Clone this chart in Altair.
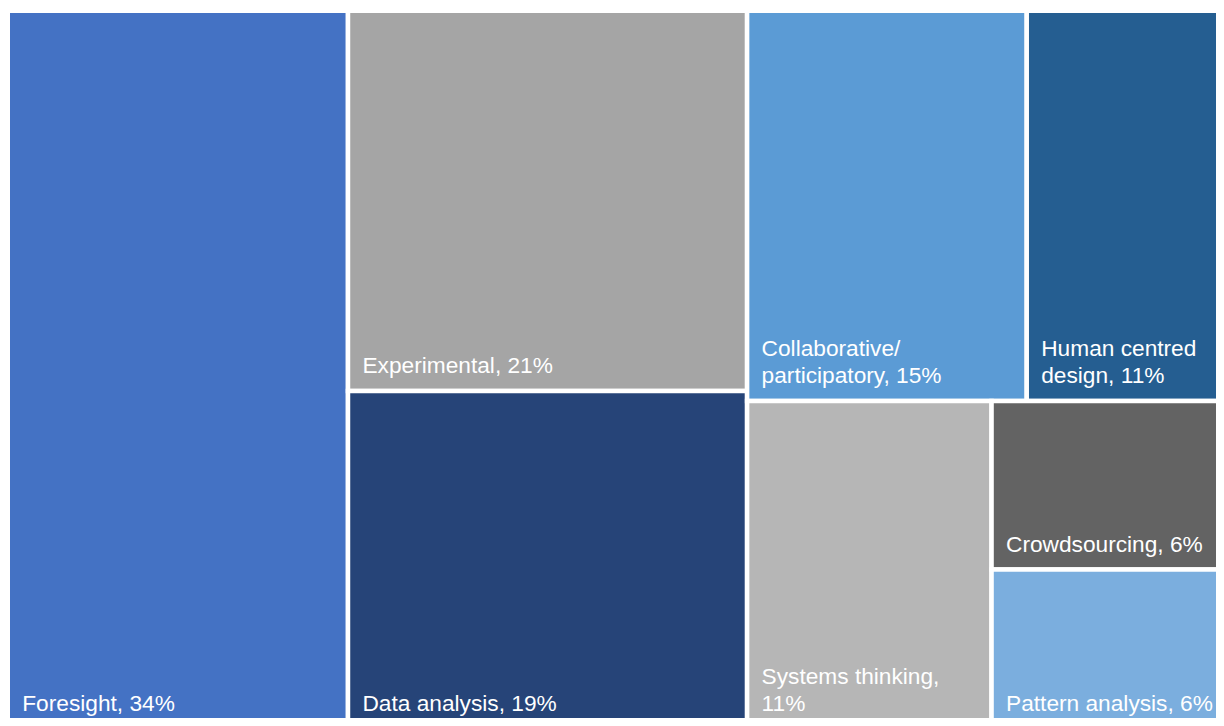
import altair as alt
import pandas as pd

# ---- data ----
names = [
    "Foresight",
    "Experimental",
    "Data analysis",
    "Collaborative/\nparticipatory",
    "Human centred\ndesign",
    "Systems thinking",
    "Crowdsourcing",
    "Pattern analysis",
]
# share of respondents (%), estimated from the tile areas; labels show rounded values
values = [34.1, 21.0, 19.0, 15.1, 11.3, 11.3, 5.7, 5.6]
separators = [", ", ", ", ", ", ", ", ", ", ",\n", ", ", ", "]
colors = ["#4472C4", "#A5A5A5", "#264478", "#5B9BD5", "#255E91",
          "#B6B6B6", "#636363", "#7BAEDE"]

# tile arrangement (indices into the lists above); "h" splits left-right, "v" top-bottom
tree = ("h", [0, ("v", [1, 2]), ("v", [("h", [3, 4]), ("h", [5, ("v", [6, 7])])])])

# ---- layout parameters (pixels inside the plot area) ----
W, H = 1208, 710
OUTER = (-0.25, 2.75, 1228.0, 727.0)   # the treemap runs past the visible frame
LINE_H = 27
PAD_X, PAD_Y = 14.5, 12.5


def total(node):
    if isinstance(node, int):
        return values[node]
    return sum(total(c) for c in node[1])


def place(node, x0, y0, x1, y1, out):
    if isinstance(node, int):
        out[node] = (x0, y0, x1, y1)
        return
    kind, children = node
    t = total(node)
    pos = x0 if kind == "h" else y0
    for c in children:
        f = total(c) / t
        if kind == "h":
            nxt = pos + (x1 - x0) * f
            place(c, pos, y0, nxt, y1, out)
        else:
            nxt = pos + (y1 - y0) * f
            place(c, x0, pos, x1, nxt, out)
        pos = nxt


boxes = {}
place(tree, *OUTER, boxes)

rows = []
for i, n in enumerate(names):
    x0, y0, x1, y1 = boxes[i]
    label = f"{n}{separators[i]}{round(values[i])}%"
    nlines = label.count("\n") + 1
    ty = min(y1 - PAD_Y, H - 2) - (nlines - 1) * LINE_H
    rows.append({
        "name": n, "label": label,
        "x0": x0, "x1": x1, "y0": y0, "y1": y1,
        "tx": x0 + PAD_X, "ty": ty,
    })
df = pd.DataFrame(rows)

xs = alt.Scale(domain=[0, W], nice=False, zero=False)
ys = alt.Scale(domain=[0, H], nice=False, zero=False, reverse=True)

rects = alt.Chart(df).mark_rect(stroke="white", strokeWidth=4.5).encode(
    x=alt.X("x0:Q", scale=xs, axis=None),
    x2="x1:Q",
    y=alt.Y("y0:Q", scale=ys, axis=None),
    y2="y1:Q",
    color=alt.Color("name:N", scale=alt.Scale(domain=names, range=colors), legend=None),
)

labels = alt.Chart(df).mark_text(
    align="left", baseline="bottom",
    fontSize=22.7, font="Liberation Sans", color="white",
    lineBreak="\n", lineHeight=LINE_H,
).encode(
    x=alt.X("tx:Q", scale=xs, axis=None),
    y=alt.Y("ty:Q", scale=ys, axis=None),
    text="label:N",
)

chart = (rects + labels).properties(
    width=W, height=H, padding=0, autosize="none"
).configure_view(stroke=None)

chart.save("out.html", embed_options={"renderer": "svg", "actions": False})
